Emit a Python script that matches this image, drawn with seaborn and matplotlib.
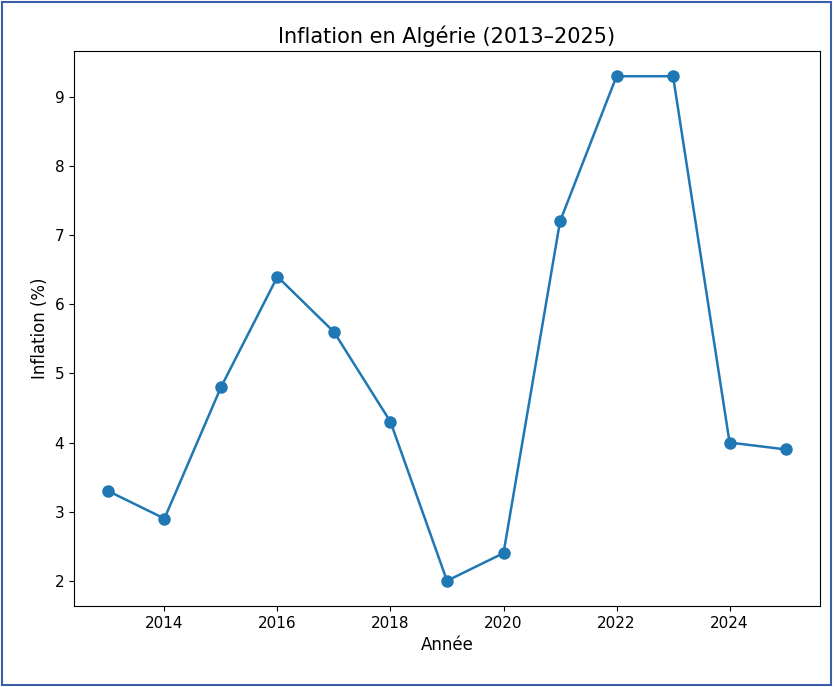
import matplotlib
matplotlib.use("Agg")
import matplotlib.pyplot as plt
import seaborn as sns
import pandas as pd
from matplotlib.patches import Rectangle

years = [2013, 2014, 2015, 2016, 2017, 2018, 2019, 2020, 2021, 2022, 2023, 2024, 2025]
inflation = [3.3, 2.9, 4.8, 6.4, 5.6, 4.3, 2.0, 2.4, 7.2, 9.3, 9.3, 4.0, 3.9]
df = pd.DataFrame({"Année": years, "Inflation (%)": inflation})

sns.set_style("ticks")
plt.rcParams['font.family'] = ['DejaVu Sans']
plt.rcParams['text.color'] = 'black'
plt.rcParams['axes.labelcolor'] = 'black'
plt.rcParams['xtick.color'] = 'black'
plt.rcParams['ytick.color'] = 'black'
plt.rcParams['axes.edgecolor'] = 'black'
fig = plt.figure(figsize=(8.35, 6.87), dpi=100)
ax = fig.add_axes([74/835, 1-606/687, (820-74)/835, (606-51)/687])
sns.lineplot(data=df, x="Année", y="Inflation (%)", marker="o", markersize=9,
             markeredgewidth=0, color="#1f77b4", linewidth=1.8, ax=ax)
ax.set_title("Inflation en Algérie (2013–2025)", fontsize=15)
ax.set_xlabel("Année", fontsize=12)
ax.set_ylabel("Inflation (%)", fontsize=12)
ax.tick_params(labelsize=11)
ax.set_xticks([2014, 2016, 2018, 2020, 2022, 2024])
fig.patches.append(Rectangle((0.002, 0.003), 0.993, 0.994, transform=fig.transFigure,
                             fill=False, edgecolor="#3a5fa8", linewidth=1.5))
fig.savefig("out.png", dpi=100)
